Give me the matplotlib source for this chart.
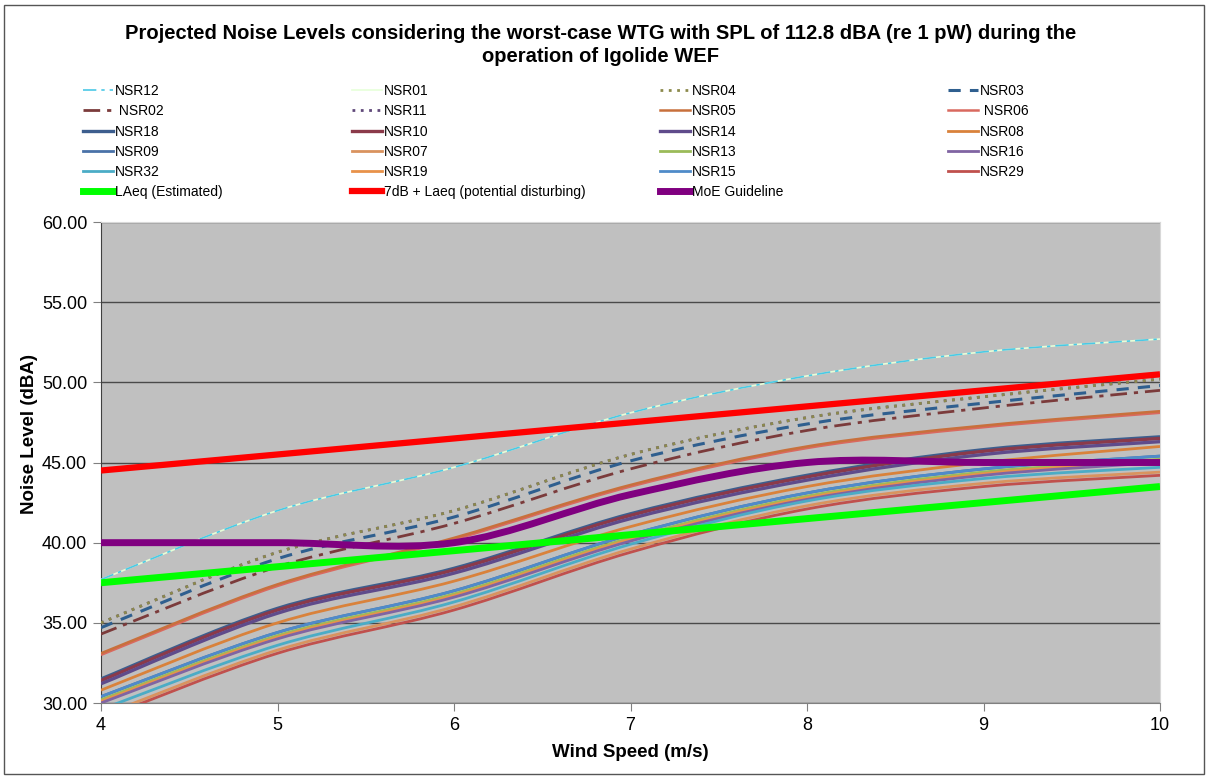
"""Projected noise levels vs wind speed (Igolide WEF) - Excel-style smoothed lines."""

import matplotlib
matplotlib.use("Agg")
import matplotlib.pyplot as plt
import numpy as np
from matplotlib.lines import Line2D
from matplotlib.patches import PathPatch, Rectangle
from matplotlib.path import Path

plt.rcParams["font.family"] = ["Liberation Sans", "DejaVu Sans"]

wind = [4, 5, 6, 7, 8, 9, 10]

# receptor levels (dBA)
nsr12 = [37.7, 42.0, 44.7, 48.1, 50.4, 51.9, 52.7]
nsr01 = [37.7, 42.0, 44.7, 48.1, 50.4, 51.9, 52.7]
nsr04 = [35.0, 39.4, 42.0, 45.5, 47.8, 49.1, 50.2]
nsr11 = [35.0, 39.4, 42.0, 45.5, 47.8, 49.1, 50.2]
nsr03 = [34.7, 39.0, 41.6, 45.1, 47.4, 48.7, 49.8]
nsr02 = [34.3, 38.5, 41.2, 44.6, 47.0, 48.4, 49.5]
nsr05 = [33.1, 37.4, 40.3, 43.6, 46.0, 47.3, 48.2]
nsr06 = [33.0, 37.3, 40.2, 43.5, 45.9, 47.2, 48.1]
nsr18 = [31.5, 35.9, 38.4, 41.8, 44.2, 45.8, 46.6]
nsr10 = [31.4, 35.8, 38.3, 41.7, 44.1, 45.7, 46.5]
nsr14 = [31.2, 35.6, 38.1, 41.5, 43.9, 45.5, 46.3]
nsr08 = [30.8, 35.0, 37.6, 41.0, 43.5, 45.0, 46.0]
nsr09 = [30.4, 34.4, 37.0, 40.5, 43.1, 44.6, 45.4]
nsr15 = [30.4, 34.4, 37.0, 40.5, 43.1, 44.6, 45.4]
nsr13 = [30.2, 34.2, 36.8, 40.3, 42.9, 44.4, 45.2]
nsr19 = [30.1, 34.1, 36.7, 40.2, 42.8, 44.3, 45.1]
nsr16 = [30.0, 34.0, 36.6, 40.1, 42.7, 44.2, 45.0]
nsr32 = [29.6, 33.6, 36.3, 39.9, 42.6, 44.0, 44.7]
nsr07 = [29.2, 33.3, 36.0, 39.6, 42.3, 43.7, 44.4]
nsr29 = [29.0, 33.1, 35.8, 39.4, 42.1, 43.5, 44.2]

laeq = [37.5, 38.5, 39.5, 40.5, 41.5, 42.5, 43.5]
laeq_7db = [44.5, 45.5, 46.5, 47.5, 48.5, 49.5, 50.5]
moe = [40.0, 40.0, 40.0, 43.0, 45.0, 45.0, 45.0]

# name -> (values, colour, linewidth, linestyle)
series = {
    "NSR01": (nsr01, "#E6FFD9", 1.2, "-"),
    "NSR12": (nsr12, "#4BC8E6", 1.2, (0, (8, 3, 2, 3))),
    "NSR11": (nsr11, "#60497A", 2.0, (0, (1, 2))),
    "NSR04": (nsr04, "#8C8A4C", 2.0, (0, (1, 2))),
    "NSR03": (nsr03, "#2F5F8F", 2.2, (0, (4, 3))),
    "NSR02": (nsr02, "#7B3B3B", 2.0, (0, (6, 2.5, 1.5, 2.5))),
    "NSR06": (nsr06, "#D9695F", 1.8, "-"),
    "NSR05": (nsr05, "#C8703C", 1.8, "-"),
    "NSR18": (nsr18, "#3D5E8E", 2.4, "-"),
    "NSR10": (nsr10, "#8B3A4A", 2.4, "-"),
    "NSR14": (nsr14, "#5F4B8B", 2.4, "-"),
    "NSR08": (nsr08, "#D9823B", 2.0, "-"),
    "NSR09": (nsr09, "#4A72A8", 2.0, "-"),
    "NSR15": (nsr15, "#4F8BC9", 2.0, "-"),
    "NSR13": (nsr13, "#9BBB59", 2.0, "-"),
    "NSR19": (nsr19, "#E8924A", 2.0, "-"),
    "NSR16": (nsr16, "#8064A2", 2.0, "-"),
    "NSR32": (nsr32, "#4BACC6", 2.0, "-"),
    "NSR07": (nsr07, "#D9935F", 2.0, "-"),
    "NSR29": (nsr29, "#C0504D", 2.0, "-"),
    "LAeq (Estimated)": (laeq, "#00FF00", 5.0, "-"),
    "7dB + Laeq (potential disturbing)": (laeq_7db, "#FF0000", 4.5, "-"),
    "MoE Guideline": (moe, "#800080", 5.0, "-"),
}

legend_cols = [
    ["NSR12", "NSR02", "NSR18", "NSR09", "NSR32", "LAeq (Estimated)"],
    ["NSR01", "NSR11", "NSR10", "NSR07", "NSR19", "7dB + Laeq (potential disturbing)"],
    ["NSR04", "NSR05", "NSR14", "NSR13", "NSR15", "MoE Guideline"],
    ["NSR03", "NSR06", "NSR08", "NSR16", "NSR29"],
]


def smooth_path(xs, ys):
    # Excel "smoothed line": cubic bezier through every point
    pts = np.column_stack([xs, ys]).astype(float)
    n = len(pts)
    verts, codes = [pts[0]], [Path.MOVETO]
    for i in range(n - 1):
        p0, p1 = pts[max(i - 1, 0)], pts[i]
        p2, p3 = pts[i + 1], pts[min(i + 2, n - 1)]
        verts += [p1 + (p2 - p0) / 6, p2 - (p3 - p1) / 6, p2]
        codes += [Path.CURVE4] * 3
    return Path(verts, codes)


fig = plt.figure(figsize=(12.08, 7.76), dpi=100)
ax = fig.add_axes([101 / 1208, 1 - 703 / 776, 1059 / 1208, 481 / 776])
ax.set_facecolor("#C0C0C0")

for name, (vals, col, lw, ls) in series.items():
    ax.add_patch(PathPatch(smooth_path(wind, vals), fill=False, edgecolor=col,
                           lw=lw, linestyle=ls, capstyle="butt", zorder=3))

ax.set_xlim(4, 10)
ax.set_ylim(30, 60)
ax.set_xticks(wind)
ax.set_yticks(np.arange(30, 61, 5))
ax.yaxis.set_major_formatter(matplotlib.ticker.FormatStrFormatter("%.2f"))
ax.grid(axis="y", color="#4A4A4A", lw=1.0)
ax.set_axisbelow(True)
ax.tick_params(labelsize=13, length=6, color="#808080", pad=4)
for s in ("top", "right"):
    ax.spines[s].set_color("#D8D8D8")
ax.spines["left"].set_color("#404040")
ax.spines["bottom"].set_color("#808080")

ax.set_xlabel("Wind Speed (m/s)", fontsize=13.5, fontweight="bold", labelpad=7)
fig.text(30 / 1208, 1 - 434 / 776, "Noise Level (dBA)", rotation=90, ha="center", va="center",
         fontsize=13.5, fontweight="bold")

fig.text(0.497, 1 - 45 / 776,
         "Projected Noise Levels considering the worst-case WTG with SPL of 112.8 dBA (re 1 pW) during the\n"
         "operation of Igolide WEF",
         ha="center", va="center", fontsize=14.5, fontweight="bold", linespacing=1.32)

col_x = [83, 352, 660, 948]
for x0, names in zip(col_x, legend_cols):
    handles = []
    for nm in names:
        vals, col, lw, ls = series[nm]
        handles.append(Line2D([], [], color=col, lw=lw, linestyle=ls))
    labels = [(" " + nm if nm in ("NSR02", "NSR06") else nm) for nm in names]
    fig.legend(handles, labels, loc="upper left", bbox_to_anchor=(x0 / 1208, 1 - 84 / 776),
               frameon=False, fontsize=10, borderpad=0, borderaxespad=0,
               handlelength=2.15, handletextpad=0.15, labelspacing=0.45)

# chart area border
fig.patches.append(Rectangle((0.003, 0.003), 0.994, 0.99, transform=fig.transFigure,
                             fill=False, edgecolor="#555555", lw=1.0))

fig.savefig("out.png", dpi=100)
